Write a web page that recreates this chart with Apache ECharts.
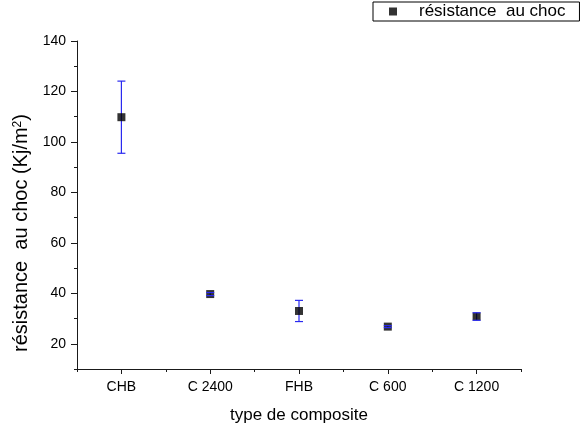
<!DOCTYPE html>
<html>
<head>
<meta charset="utf-8">
<script src="https://cdn.jsdelivr.net/npm/echarts@6/dist/echarts.min.js"></script>
<style>html,body{margin:0;padding:0;background:#fff;}#c{width:582px;height:425px;}</style>
</head>
<body>
<div id="c"></div>
<script>
const categories = ['CHB', 'C 2400', 'FHB', 'C 600', 'C 1200'];
const values = [109.8, 39.7, 33.0, 26.8, 30.8];
const errors = [14.3, 0.6, 4.2, 0.4, 1.5];
const yMajorTicks = [20, 40, 60, 80, 100, 120, 140];
const yMinorTicks = [10, 30, 50, 70, 90, 110, 130];
const xMajorTicks = [1, 2, 3, 4, 5];
const xMinorTicks = [0.5, 1.5, 2.5, 3.5, 4.5, 5.5];
const seriesName = 'résistance  au choc';

const FONT = '"Liberation Sans", Arial, sans-serif';
const points = values.map((v, i) => [i + 1, v, errors[i]]);

const chart = echarts.init(document.getElementById('c'), null, {renderer: 'canvas'});
const axisLineStyle = {color: '#1a1a1a', width: 1};
const ERR = '#2a2af0';

chart.setOption({
  animation: false,
  backgroundColor: '#fff',
  grid: {left: 77, right: 61, top: 41, bottom: 56, containLabel: false, outerBoundsMode: 'none'},
  legend: {
    left: 373, top: 2,
    orient: 'horizontal',
    padding: [1, 14, 1, 16],
    borderColor: '#000', borderWidth: 1,
    itemWidth: 8, itemHeight: 8,
    icon: 'rect',
    data: [{name: seriesName, itemStyle: {color: '#000'}}],
    textStyle: {fontFamily: FONT, fontSize: 17, color: '#000', padding: [0, 0, 0, 17]}
  },
  xAxis: [{
    type: 'value', min: 0.5, max: 5.5, interval: 0.5,
    position: 'bottom',
    name: 'type de composite', nameLocation: 'middle', nameGap: 38,
    nameTextStyle: {fontFamily: FONT, fontSize: 17, color: '#000'},
    axisLine: {show: true, lineStyle: axisLineStyle},
    axisTick: {show: true, inside: false, length: 5, customValues: xMajorTicks, lineStyle: axisLineStyle},
    axisLabel: {show: true, margin: 11, customValues: xMajorTicks, fontFamily: FONT, fontSize: 14, color: '#000',
      formatter: v => categories[Math.round(v) - 1] || ''},
    splitLine: {show: false}
  }, {
    type: 'value', min: 0.5, max: 5.5, interval: 0.5,
    position: 'bottom',
    axisLine: {show: false},
    axisTick: {show: true, inside: false, length: 3, customValues: xMinorTicks, lineStyle: axisLineStyle},
    axisLabel: {show: false},
    splitLine: {show: false}
  }],
  yAxis: [{
    type: 'value', min: 10, max: 140, interval: 10,
    position: 'left',
    name: 'résistance  au choc (Kj/m{sup|2})', nameLocation: 'middle', nameGap: 34,
    nameTextStyle: {fontFamily: FONT, fontSize: 20, color: '#000', padding: [0, 56, 0, 0],
      rich: {sup: {fontFamily: FONT, fontSize: 12, color: '#000', verticalAlign: 'top', padding: [0, 0, 8, 0]}}},
    axisLine: {show: true, lineStyle: axisLineStyle},
    axisTick: {show: true, inside: false, length: 6, customValues: yMajorTicks, lineStyle: axisLineStyle},
    axisLabel: {show: true, margin: 11, customValues: yMajorTicks, fontFamily: FONT, fontSize: 14, color: '#000'},
    splitLine: {show: false}
  }, {
    type: 'value', min: 10, max: 140, interval: 10,
    position: 'left',
    axisLine: {show: false},
    axisTick: {show: true, inside: false, length: 3, customValues: yMinorTicks, lineStyle: axisLineStyle},
    axisLabel: {show: false},
    splitLine: {show: false}
  }],
  series: [{
    type: 'custom',
    name: 'stems',
    z: 1,
    data: points,
    renderItem: (params, api) => {
      const x = api.value(0), y = api.value(1), e = api.value(2);
      const top = api.coord([x, y + e]);
      const bot = api.coord([x, y - e]);
      return {type: 'line', shape: {x1: top[0], y1: top[1], x2: bot[0], y2: bot[1]},
        style: {stroke: ERR, lineWidth: 1.2}};
    },
    silent: true
  }, {
    type: 'scatter',
    name: seriesName,
    z: 2,
    symbol: 'rect',
    symbolSize: 8,
    itemStyle: {color: '#000'},
    data: points.map(p => [p[0], p[1]])
  }, {
    type: 'custom',
    name: 'caps',
    z: 3,
    data: points,
    renderItem: (params, api) => {
      const x = api.value(0), y = api.value(1), e = api.value(2);
      const top = api.coord([x, y + e]);
      const bot = api.coord([x, y - e]);
      const w = 4;
      return {type: 'group', children: [
        {type: 'line', shape: {x1: top[0] - w, y1: top[1], x2: top[0] + w, y2: top[1]}, style: {stroke: ERR, lineWidth: 1.2}},
        {type: 'line', shape: {x1: bot[0] - w, y1: bot[1], x2: bot[0] + w, y2: bot[1]}, style: {stroke: ERR, lineWidth: 1.2}}
      ]};
    },
    silent: true
  }]
});
</script>
</body>
</html>
